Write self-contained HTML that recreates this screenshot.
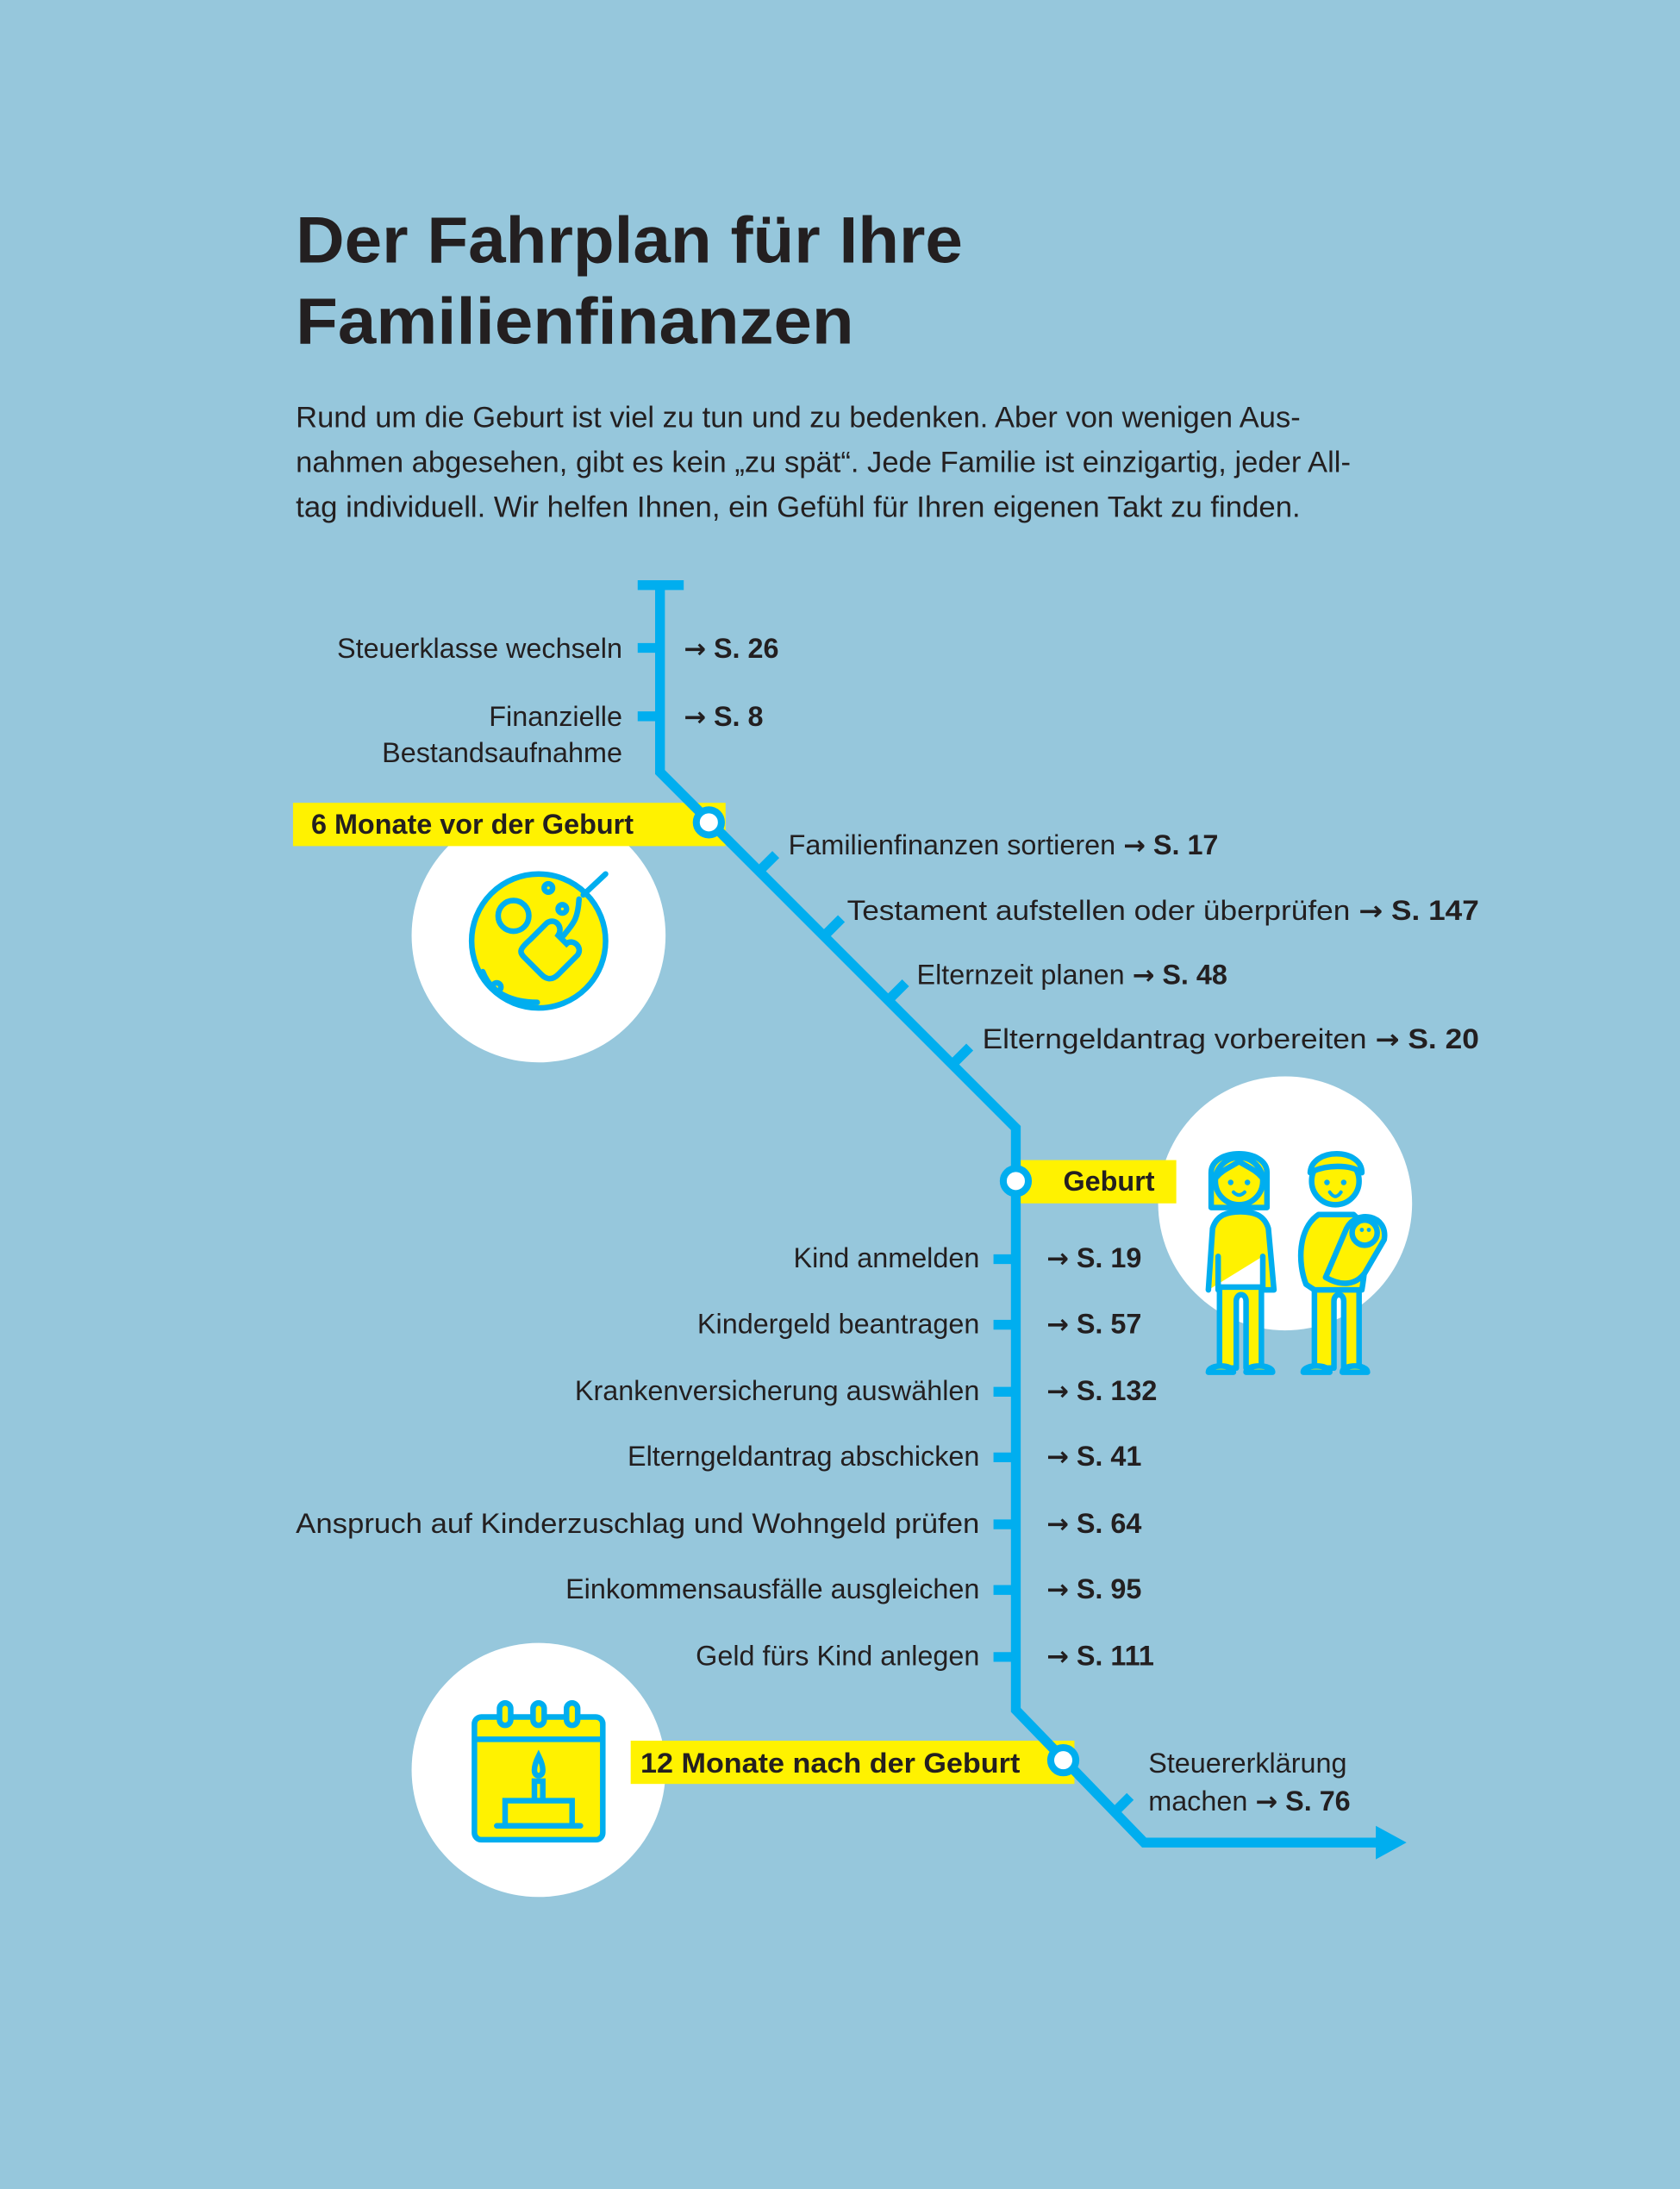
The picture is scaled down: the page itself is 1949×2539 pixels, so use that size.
<!DOCTYPE html>
<html><head><meta charset="utf-8"><style>html,body{margin:0;padding:0;background:#96c7dc}svg{display:block}.a{font-family:"DejaVu Sans",sans-serif;font-weight:bold;font-size:19px}</style></head>
<body>
<svg width="1949" height="2539" viewBox="0 0 1204 1568" xmlns="http://www.w3.org/2000/svg" font-family="Liberation Sans, sans-serif">
<rect width="1204" height="1568" fill="#96c7dc"/>
<g fill="#231f20">
<text x="212" y="188" font-size="47" font-weight="bold" textLength="478" lengthAdjust="spacingAndGlyphs">Der Fahrplan für Ihre</text>
<text x="212" y="246" font-size="47" font-weight="bold" textLength="400" lengthAdjust="spacingAndGlyphs">Familienfinanzen</text>
<text x="212" y="306" font-size="21" textLength="720" lengthAdjust="spacingAndGlyphs">Rund um die Geburt ist viel zu tun und zu bedenken. Aber von wenigen Aus-</text>
<text x="212" y="338" font-size="21" textLength="756" lengthAdjust="spacingAndGlyphs">nahmen abgesehen, gibt es kein „zu spät“. Jede Familie ist einzigartig, jeder All-</text>
<text x="212" y="370" font-size="21" textLength="720" lengthAdjust="spacingAndGlyphs">tag individuell. Wir helfen Ihnen, ein Gefühl für Ihren eigenen Takt zu finden.</text>
</g>
<circle cx="386" cy="670" r="91" fill="#fff"/>
<circle cx="921" cy="862" r="91" fill="#fff"/>
<circle cx="386" cy="1268" r="91" fill="#fff"/>
<rect x="210" y="575" width="310" height="31" fill="#fff200"/>
<rect x="728" y="831" width="115" height="31" fill="#fff200"/>
<rect x="452" y="1247" width="318" height="31" fill="#fff200"/>
<g stroke="#00aeef" stroke-width="7" fill="none">
<path d="M457 419 H490 M473 419 V553 L728 808 V1225 L820 1320 H988"/>
<path d="M457 464 H473 M457 513 H473"/>
<path d="M545 623 L556 612 M592 669 L603 658 M638 715 L649 704 M684 761 L695 750"/>
<path d="M712 902 H728 M712 949 H728 M712 997 H728 M712 1044 H728 M712 1092 H728 M712 1139 H728 M712 1187 H728"/>
<path d="M800 1297 L810 1287"/>
</g>
<path d="M986 1308 L1008 1320 L986 1332 Z" fill="#00aeef"/>
<g fill="#fff" stroke="#00aeef" stroke-width="5">
<circle cx="508" cy="589" r="9"/>
<circle cx="728" cy="846" r="9"/>
<circle cx="762" cy="1261" r="9"/>
</g>
<g fill="#231f20" font-weight="bold" font-size="20">
<text x="223" y="597">6 Monate vor der Geburt</text>
<text x="762" y="853">Geburt</text>
<text x="459" y="1270" textLength="272" lengthAdjust="spacingAndGlyphs">12 Monate nach der Geburt</text>
</g>
<g fill="#231f20" font-size="20" text-anchor="end">
<text x="446" y="471">Steuerklasse wechseln</text>
<text x="446" y="520">Finanzielle</text>
<text x="446" y="546">Bestandsaufnahme</text>
<text x="702" y="908">Kind anmelden</text>
<text x="702" y="955">Kindergeld beantragen</text>
<text x="702" y="1003">Krankenversicherung auswählen</text>
<text x="702" y="1050">Elterngeldantrag abschicken</text>
<text x="702" y="1098" textLength="490" lengthAdjust="spacingAndGlyphs">Anspruch auf Kinderzuschlag und Wohngeld prüfen</text>
<text x="702" y="1145">Einkommensausfälle ausgleichen</text>
<text x="702" y="1193">Geld fürs Kind anlegen</text>
</g>
<g fill="#231f20" font-size="20">
<text x="490" y="471"><tspan class="a">→</tspan> <tspan font-weight="bold">S. 26</tspan></text>
<text x="490" y="520"><tspan class="a">→</tspan> <tspan font-weight="bold">S. 8</tspan></text>
<text x="565" y="612">Familienfinanzen sortieren  <tspan class="a">→</tspan> <tspan font-weight="bold">S. 17</tspan></text>
<text x="607" y="659" textLength="453" lengthAdjust="spacingAndGlyphs">Testament aufstellen oder überprüfen  <tspan class="a">→</tspan> <tspan font-weight="bold">S. 147</tspan></text>
<text x="657" y="705">Elternzeit planen  <tspan class="a">→</tspan> <tspan font-weight="bold">S. 48</tspan></text>
<text x="704" y="751" textLength="356" lengthAdjust="spacingAndGlyphs">Elterngeldantrag vorbereiten  <tspan class="a">→</tspan> <tspan font-weight="bold">S. 20</tspan></text>
<text x="750" y="908"><tspan class="a">→</tspan> <tspan font-weight="bold">S. 19</tspan></text>
<text x="750" y="955"><tspan class="a">→</tspan> <tspan font-weight="bold">S. 57</tspan></text>
<text x="750" y="1003"><tspan class="a">→</tspan> <tspan font-weight="bold">S. 132</tspan></text>
<text x="750" y="1050"><tspan class="a">→</tspan> <tspan font-weight="bold">S. 41</tspan></text>
<text x="750" y="1098"><tspan class="a">→</tspan> <tspan font-weight="bold">S. 64</tspan></text>
<text x="750" y="1145"><tspan class="a">→</tspan> <tspan font-weight="bold">S. 95</tspan></text>
<text x="750" y="1193"><tspan class="a">→</tspan> <tspan font-weight="bold">S. 111</tspan></text>
<text x="823" y="1270">Steuererklärung</text>
<text x="823" y="1297">machen  <tspan class="a">→</tspan> <tspan font-weight="bold">S. 76</tspan></text>
</g>
<g stroke="#00aeef" stroke-width="4" fill="none" stroke-linecap="round">
<circle cx="386" cy="674" r="48" fill="#fff200"/>
<circle cx="368" cy="656" r="11"/>
<circle cx="393" cy="636" r="3"/><circle cx="403" cy="651" r="3"/><circle cx="356" cy="707" r="3"/>
<path d="M418 641 L434 626"/>
<path d="M415 644 C414 660 410 662 404 670"/>
<path d="M380 673 L392 661 C398 657 404 664 400 670 L406 676 C410 672 418 678 414 684 L400 698 C396 702 392 702 388 698 L376 686 C372 682 372 680 380 673 Z"/>
<path d="M346 696 C352 712 368 718 385 718"/>
</g>
<g stroke="#00aeef" stroke-width="4" fill="#fff200" stroke-linejoin="round" stroke-linecap="round">
<!-- woman -->
<path d="M868 865 V840 C868 822 908 822 908 840 V865 Z"/>
<path d="M874 980 V922 H904 V980 H893 V932 C893 926 886 926 886 932 V980 Z"/>
<path d="M866 983 C866 977 884 977 884 983 Z M893 983 C893 977 912 977 912 983 Z"/>
<path d="M866 924 L869 880 C872 870 880 868 889 868 C898 868 906 870 909 880 L913 924 H905 V900 M873 900 V924 Z"/>
<circle cx="888" cy="846" r="17"/>
<path d="M872 843 C876 838 882 836 888 832 C894 836 900 838 904 843" fill="none"/>
<!-- man -->
<path d="M942 980 V922 H974 V980 H963 V932 C963 926 956 926 956 932 V980 Z"/>
<path d="M934 983 C934 977 953 977 953 983 Z M962 983 C962 977 980 977 980 983 Z"/>
<path d="M936 920 C930 905 930 880 945 870 L970 870 C980 878 980 900 976 924 H942 Z"/>
<circle cx="957" cy="846" r="17"/>
<path d="M939 840 C940 822 976 822 976 840 C968 834 950 834 939 840 Z"/>
<path d="M950 915 L965 880 C972 866 995 870 992 888 L978 912 C972 920 962 922 950 915 Z"/>
<circle cx="978" cy="883" r="9"/>
</g>
<g fill="#00aeef"><circle cx="882" cy="847" r="2"/><circle cx="894" cy="847" r="2"/><circle cx="951" cy="847" r="2"/><circle cx="963" cy="847" r="2"/><circle cx="976" cy="881" r="1.5"/><circle cx="981" cy="881" r="1.5"/></g>
<g stroke="#00aeef" stroke-width="2.5" fill="none" stroke-linecap="round"><path d="M884 854 Q888 858 892 854"/><path d="M953 854 Q957 860 961 854"/></g>
<g stroke="#00aeef" stroke-width="4" fill="#fff200" stroke-linecap="round">
<rect x="340" y="1230" width="92" height="88" rx="5"/>
<path d="M341 1246 H431" fill="none"/>
<rect x="358" y="1220" width="8" height="16" rx="4"/>
<rect x="382" y="1220" width="8" height="16" rx="4"/>
<rect x="406" y="1220" width="8" height="16" rx="4"/>
<path d="M386 1258 C382 1266 382 1272 386 1272 C390 1272 390 1266 386 1258 Z"/>
<rect x="383" y="1276" width="6" height="14"/>
<rect x="362" y="1290" width="48" height="18"/>
<path d="M356 1308 H416" fill="none"/>
</g>
</svg>
</body></html>
